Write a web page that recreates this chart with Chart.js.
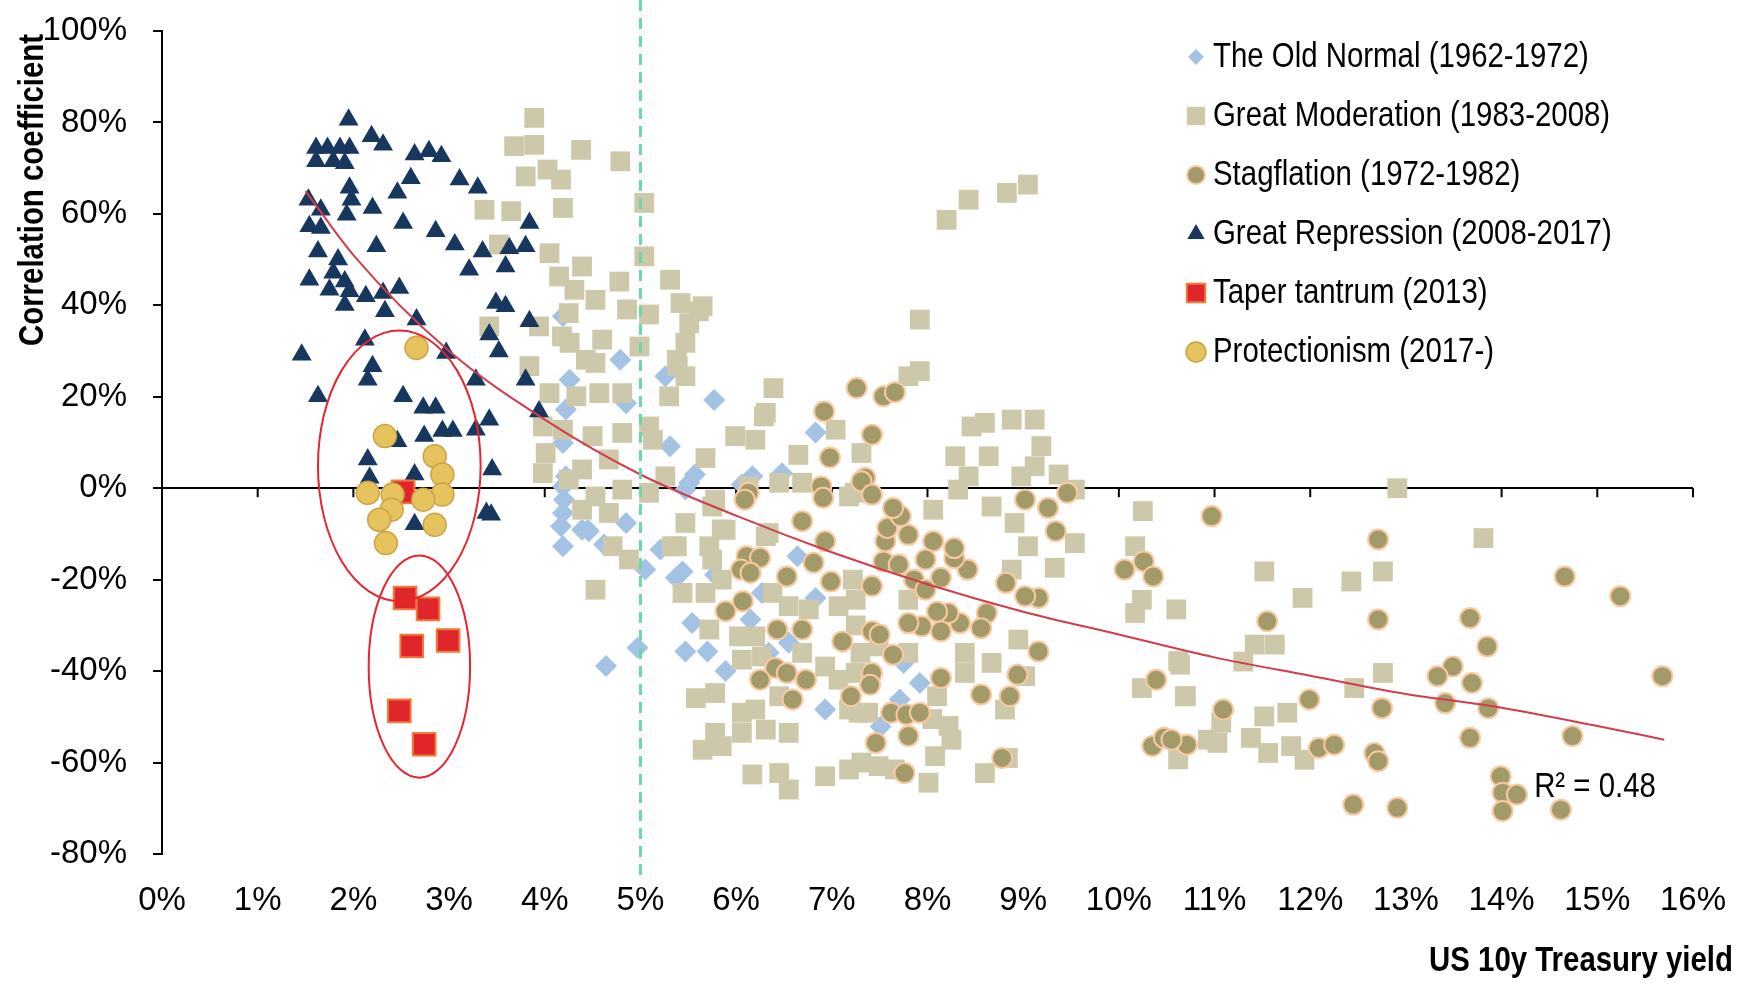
<!DOCTYPE html>
<html>
<head>
<meta charset="utf-8">
<script src="https://cdn.jsdelivr.net/npm/chart.js@4.4.1/dist/chart.umd.min.js"></script>
<style>
  html, body { margin: 0; padding: 0; background: #fff; }
  #wrap { width: 1753px; height: 989px; position: relative; }
</style>
</head>
<body>
<div id="wrap"><canvas id="chart"></canvas></div>
<script>
// values, in % (x = US 10y yield, y = correlation)
const seriesNames = [
    'The Old Normal (1962-1972)',
    'Great Moderation (1983-2008)',
    'Stagflation (1972-1982)',
    'Great Repression (2008-2017)',
    'Taper tantrum (2013)',
    'Protectionism (2017-)'
];

const oldNormal = [
    [4.19,37.6],[4.26,23.7],[4.22,17.2],[4.19,9.9],[4.22,2.6],[4.20,-2.5],[4.17,-8.3],[4.19,-12.7],
    [4.39,-9.1],[4.46,-9.4],[4.85,-7.6],[4.62,-12.3],[4.79,28.1],[4.85,18.6],[5.26,24.5],[5.31,9.2],
    [5.57,3.0],[5.47,-0.3],[5.51,1.2],[6.06,0.8],[6.17,2.6],[6.48,3.3],[5.77,19.3],[6.83,12.2],
    [5.21,-13.4],[5.05,-17.8],[5.44,-18.2],[5.37,-19.6],[5.78,-18.9],[6.27,-22.9],[6.15,-28.7],
    [5.54,-29.5],[4.97,-34.9],[5.47,-35.7],[5.70,-35.7],[4.64,-38.9],[5.89,-40.0],[6.64,-14.9],
    [6.83,-24.0],[6.55,-33.8],[6.34,-36.0],[6.93,-48.4],[7.51,-52.1],[7.75,-38.2],[7.92,-42.6],
    [7.71,-46.2],[4.19,0.4],[4.19,-5.4],[4.45,-9.1]
];

const moderation = [
    [3.89,81.0],[3.68,74.8],[3.89,75.1],[4.38,74.0],[3.80,68.2],[4.03,69.7],[4.17,67.5],[4.19,61.3],
    [3.37,60.9],[3.65,60.6],[4.79,71.5],[5.04,62.4],[8.20,58.7],[8.43,63.1],[8.83,64.6],[9.05,66.4],
    [7.92,36.9],[7.92,25.6],[7.80,24.5],
    [3.52,53.3],[4.05,51.4],[4.39,48.5],[4.31,43.4],[3.42,35.4],[3.94,35.4],[4.26,31.8],[3.84,26.7],
    [4.43,28.1],[4.05,20.8],[4.33,20.1],[5.04,50.7],[4.15,46.3],[4.78,45.2],[5.31,45.6],[4.53,41.2],
    [4.86,39.1],[5.09,38.0],[5.42,40.5],[5.65,39.8],[5.51,36.1],[4.25,38.3],[4.18,33.2],[4.60,32.5],
    [4.99,31.0],[5.47,31.8],[4.53,27.4],[5.38,28.1],[5.47,24.5],[4.57,20.8],[4.81,20.8],[5.30,20.1],
    [5.61,38.7],[5.39,26.7],
    [3.98,13.5],[4.01,7.7],[3.98,3.3],[4.39,4.1],[6.39,21.9],[6.31,16.5],[5.99,11.4],[6.20,10.6],
    [7.04,12.8],[7.31,7.7],[6.65,7.3],[5.68,6.6],[4.50,11.4],[4.81,12.1],[5.09,13.5],[4.19,12.8],
    [4.67,6.3],[4.25,1.9],[5.26,2.6],[6.13,0.4],[6.45,1.2],[6.69,1.2],[5.13,10.6],[6.29,15.7],
    [4.39,-4.7],[4.53,-1.8],[4.81,-0.3],[5.09,-1.0],[5.78,-2.5],[7.18,-1.8],[5.47,-7.6],[5.85,-9.0],
    [6.31,-10.5],[4.71,-12.7],[5.33,-12.7],[4.67,-5.4],[5.75,-4.0],[5.89,-9.1],[6.34,-9.8],[4.88,-15.6],
    [5.38,-12.7],[5.72,-12.7],[5.75,-15.6],[4.53,-22.2],[5.44,-22.9],[5.68,-22.9],[5.85,-20.0],
    [6.38,-22.9],[6.55,-25.8],[6.76,-26.5],[7.07,-25.8],[7.25,-24.4],[5.72,-30.9],[6.03,-32.4],
    [6.20,-32.4],[6.69,-36.0],[6.06,-37.5],[6.27,-36.8],[6.93,-39.0],[7.07,-41.9],[7.25,-40.4],
    [7.49,-34.6],[5.58,-45.9],[5.78,-44.8],[6.06,-49.1],[6.20,-48.4],[6.45,-45.5],[7.18,-48.4],
    [7.38,-49.1],[5.65,-57.2],[5.85,-56.4],[5.78,-53.5],[6.06,-53.5],[6.31,-52.8],[6.55,-53.5],
    [6.17,-62.6],[6.45,-62.3],[6.55,-65.9],[6.93,-63.0],[7.18,-61.5],[7.49,-60.8],[7.66,-61.5],
    [8.46,13.5],[8.60,14.3],[8.88,15.0],[9.12,15.0],[8.29,7.0],[8.64,7.0],[9.19,9.2],[9.12,4.8],
    [8.98,2.6],[9.37,3.0],[9.54,-0.3],[8.43,2.6],[8.32,-0.3],[7.24,-1.0],[8.06,-4.7],[8.67,-4.0],
    [8.91,-7.6],[9.05,-12.7],[9.54,-12.0],[10.25,-5.0],[10.17,-12.7],[9.33,-17.4],[8.88,-17.8],
    [10.24,-24.4],[10.17,-27.3],[10.60,-26.5],[10.62,-37.8],[10.24,-43.7],[10.69,-45.5],[8.95,-33.1],
    [8.39,-36.0],[8.67,-38.2],[9.02,-41.1],[8.39,-40.4],[8.10,-45.5],[8.22,-52.0],[8.25,-55.0],
    [8.08,-58.6],[8.01,-64.4],[7.80,-36.0],[7.28,-49.1],[7.31,-60.0],[8.81,-48.4],[8.60,-62.3],
    [8.84,-59.0],[10.62,-59.3],[7.22,-20.0],[7.25,-30.0],[7.30,-36.0],[7.80,-24.4],[8.05,-50.5],
    [12.91,0.0],[11.52,-18.2],[11.92,-24.0],[12.43,-20.4],[12.76,-18.2],[10.64,-38.6],[10.70,-45.5],
    [11.42,-34.2],[11.63,-34.2],[11.30,-37.9],[12.46,-43.7],[12.76,-40.4],[10.93,-55.0],[11.07,-51.3],
    [11.52,-49.9],[11.76,-49.1],[11.38,-54.6],[11.56,-57.9],[11.80,-56.4],[11.94,-59.4],[13.81,-10.9],
    [11.03,-55.7]
];

const stagflation = [
    [7.26,21.9],[7.54,20.1],[7.66,21.0],[6.92,16.8],[7.42,11.7],[6.98,6.7],[7.35,2.3],[6.89,0.4],
    [7.31,1.5],[6.13,-1.0],[6.09,-2.5],[6.91,-2.1],[7.42,-1.4],[6.69,-7.2],[6.93,-11.6],[6.11,-14.9],
    [6.25,-15.2],[6.05,-17.8],[6.15,-18.5],[6.53,-19.3],[6.81,-16.3],[6.99,-20.4],[6.07,-24.7],
    [5.89,-26.9],[6.43,-30.9],[6.69,-30.9],[7.11,-33.5],[7.42,-31.3],[7.50,-32.0],[7.64,-36.4],
    [6.41,-39.3],[6.25,-41.9],[6.53,-40.4],[6.73,-41.9],[6.59,-46.2],[7.42,-40.4],[7.40,-43.0],
    [7.20,-45.5],[7.62,-49.1],[7.78,-49.5],[7.92,-49.1],[7.80,-54.2],[7.46,-55.7],[7.76,-62.3],
    [8.14,-41.5],[8.56,-45.1],[8.86,-45.5],[8.94,-40.8],[9.16,-35.7],[8.78,-59.0],[9.16,-24.0],
    [9.02,-23.6],[8.82,-20.7],[8.62,-27.3],[8.56,-30.6],[8.34,-29.5],[8.14,-31.3],[7.94,-30.2],
    [7.80,-29.5],[8.22,-27.3],[8.10,-27.0],[8.14,-19.6],[7.86,-20.0],[7.98,-22.2],[8.42,-17.8],
    [8.28,-15.3],[8.28,-13.1],[8.06,-11.6],[7.80,-10.2],[7.56,-11.6],[7.58,-8.7],[7.72,-6.1],
    [7.64,-4.3],[7.98,-15.6],[7.54,-16.0],[7.70,-16.7],[7.42,-21.4],[9.34,-9.4],[9.26,-4.3],
    [9.02,-2.5],[9.46,-1.0],[10.06,-17.8],[10.26,-16.0],[10.36,-19.3],[10.97,-6.1],[10.39,-41.9],
    [10.35,-56.4],[10.47,-54.6],[10.71,-56.1],[10.55,-55.0],[11.09,-48.4],[11.55,-29.1],[11.99,-46.2],
    [12.09,-56.8],[12.25,-56.1],[12.71,-11.2],[12.71,-28.7],[12.75,-48.1],[12.67,-57.9],[12.71,-59.7],
    [12.45,-69.2],[12.91,-69.9],[13.67,-28.4],[13.85,-34.6],[14.66,-19.3],[15.24,-23.6],[15.68,-41.1],
    [13.49,-39.0],[13.33,-41.1],[13.69,-42.6],[13.41,-47.0],[13.86,-48.1],[13.67,-54.6],[14.74,-54.2],
    [13.99,-63.0],[14.01,-66.6],[14.16,-67.0],[14.01,-70.6],[14.62,-70.3]
];

const repression = [
    [1.95,80.6],[1.61,74.4],[1.73,74.4],[1.86,74.4],[1.96,74.4],[1.61,71.5],[1.79,71.5],[1.91,71.1],
    [2.19,77.0],[2.31,75.1],[2.64,73.0],[2.79,73.7],[2.92,72.6],[1.96,65.7],[1.98,63.1],[2.60,67.8],
    [2.46,64.6],[3.11,67.5],[3.30,65.7],[1.53,63.1],[1.66,60.9],[2.20,61.3],[1.93,59.8],[1.54,57.3],
    [1.66,56.9],[2.52,58.0],[2.86,56.2],[3.84,58.0],[3.06,53.3],[3.35,51.8],[3.63,52.5],[3.80,52.9],
    [1.63,51.8],[2.24,52.9],[1.84,50.0],[3.21,47.8],[3.59,48.5],[1.54,45.6],[1.79,47.1],[1.91,45.2],
    [1.75,43.4],[1.96,43.1],[2.13,42.0],[2.31,42.7],[2.48,43.8],[1.91,40.1],[2.33,38.7],[2.66,36.9],
    [3.49,40.5],[3.59,39.8],[3.84,36.5],[3.42,33.6],[2.12,32.5],[2.97,29.6],[1.46,29.2],[3.52,29.9],
    [2.20,26.7],[2.15,23.7],[3.28,23.7],[3.80,23.7],[1.63,20.1],[2.52,20.1],[2.73,17.6],[2.86,17.6],
    [3.94,16.8],[3.42,15.0],[2.74,11.4],[2.93,12.5],[3.04,12.5],[3.28,12.8],[2.46,10.3],[2.15,6.3],
    [3.45,4.1],[2.64,3.0],[2.17,2.3],[3.39,-5.4],[3.44,-5.8],[2.64,-7.9]
];

const taper = [[2.52,-0.8],[2.54,-24.0],[2.78,-26.4],[2.61,-34.5],[2.99,-33.3],[2.48,-48.7],[2.74,-56.0]];

const protectionism = [
    [2.66,30.7],[2.33,11.4],[2.85,7.0],[2.93,3.0],[2.93,-1.4],[2.73,-2.5],[2.15,-1.0],[2.41,-1.4],
    [2.40,-4.7],[2.27,-6.9],[2.85,-8.0],[2.34,-12.0]
];

// fitted trend line, read at a few yields
const trendX = [1.5, 2, 3, 4, 5, 6, 7, 8, 9, 10, 11, 12, 13, 14, 15, 15.7];
const trendY = [65, 51, 30, 15, 3, -6, -14, -21, -27, -32, -37, -41, -45, -48, -52, -55];
const rSquaredLabel = 'R² = 0.48';

// highlighted groups: [centre x, centre y, half width, half height]
const circled = [[2.48, 4.9, 0.85, 29.6], [2.69, -39.0, 0.53, 24.3]];
const dividerYield = 5;

const FONT = "'Liberation Sans Narrow', 'Arial Narrow', 'Liberation Sans', sans-serif";
const NARROW = 0.84; // squeeze factor to mimic the condensed Excel font

const toPts = arr => arr.map(p => ({ x: p[0], y: p[1] }));

const styles = [
    { pointStyle: 'rectRot', radius: 11, bg: '#a4c3e4', border: '#a4c3e4', bw: 0, legendR: 8 },
    { pointStyle: 'rect', radius: 14, bg: '#cec8aa', border: '#cec8aa', bw: 0, legendR: 13 },
    { pointStyle: 'circle', radius: 10, bg: '#a29a68', border: '#f8c8a0', bw: 2, legendR: 9 },
    { pointStyle: 'triangle', radius: 11.5, bg: '#17375e', border: '#17375e', bw: 0, legendR: 10 },
    { pointStyle: 'rect', radius: 16, bg: '#e0262a', border: '#f07a3c', bw: 2, legendR: 13 },
    { pointStyle: 'circle', radius: 11.5, bg: '#e7c35d', border: '#c9a244', bw: 1.5, legendR: 10 }
];
const seriesData = [oldNormal, moderation, stagflation, repression, taper, protectionism];

const datasets = seriesData.map((arr, i) => ({
    label: seriesNames[i],
    data: toPts(arr),
    pointStyle: styles[i].pointStyle,
    pointRadius: styles[i].radius,
    backgroundColor: styles[i].bg,
    borderColor: styles[i].border,
    borderWidth: styles[i].bw,
    order: 6 - i
}));

datasets.push({
    type: 'line',
    label: 'trend',
    data: trendX.map((x, i) => ({ x: x, y: trendY[i] })),
    showLine: true,
    borderColor: '#d23c4b',
    borderWidth: 2,
    pointRadius: 0,
    fill: false,
    cubicInterpolationMode: 'monotone',
    order: 0
});

function markerPath(ctx, style, x, y, r) {
    ctx.beginPath();
    if (style === 'rectRot') {
        ctx.moveTo(x, y - r); ctx.lineTo(x + r, y); ctx.lineTo(x, y + r); ctx.lineTo(x - r, y);
        ctx.closePath();
    } else if (style === 'rect') {
        const s = r * Math.SQRT1_2;
        ctx.rect(x - s, y - s, 2 * s, 2 * s);
    } else if (style === 'triangle') {
        ctx.moveTo(x, y - r);
        ctx.lineTo(x + r * 0.866, y + r * 0.5);
        ctx.lineTo(x - r * 0.866, y + r * 0.5);
        ctx.closePath();
    } else {
        ctx.arc(x, y, r, 0, Math.PI * 2);
    }
}

function narrowText(ctx, text, x, y, align) {
    ctx.save();
    ctx.translate(x, y);
    ctx.scale(NARROW, 1);
    ctx.textAlign = align;
    ctx.fillText(text, 0, 0);
    ctx.restore();
}

const overlay = {
    id: 'overlay',
    beforeDatasetsDraw(chart) {
        const { ctx, scales: { x, y } } = chart;
        const y0 = y.getPixelForValue(0);
        ctx.save();
        ctx.strokeStyle = '#000';
        ctx.lineWidth = 2;
        x.ticks.forEach(t => {
            const px = x.getPixelForValue(t.value);
            ctx.beginPath();
            ctx.moveTo(px, y0);
            ctx.lineTo(px, y0 + 9);
            ctx.stroke();
        });
        ctx.restore();
    },
    afterDatasetsDraw(chart) {
        const { ctx, scales: { x, y }, chartArea } = chart;
        ctx.save();
        // 5% divider
        const xd = x.getPixelForValue(dividerYield);
        ctx.strokeStyle = '#6ad8a4';
        ctx.lineWidth = 3;
        ctx.setLineDash([11, 7]);
        ctx.beginPath();
        ctx.moveTo(xd, 0);
        ctx.lineTo(xd, chartArea.bottom + 23);
        ctx.stroke();
        ctx.setLineDash([]);

        // red ellipses round the recent regimes
        ctx.strokeStyle = '#e8242e';
        ctx.lineWidth = 2;
        circled.forEach(c => {
            const cx = x.getPixelForValue(c[0]);
            const cy = y.getPixelForValue(c[1]);
            const rx = Math.abs(x.getPixelForValue(c[0] + c[2]) - cx);
            const ry = Math.abs(y.getPixelForValue(c[1] + c[3]) - cy);
            ctx.beginPath();
            ctx.ellipse(cx, cy, rx, ry, 0, 0, Math.PI * 2);
            ctx.stroke();
        });

        // R squared
        ctx.fillStyle = '#000';
        ctx.font = '35px ' + FONT;
        ctx.textBaseline = 'middle';
        narrowText(ctx, rSquaredLabel, x.getPixelForValue(14.34), y.getPixelForValue(-65.5), 'left');
        ctx.restore();
    },
    afterDraw(chart) {
        const { ctx } = chart;
        ctx.save();
        // legend
        ctx.font = '35px ' + FONT;
        ctx.textBaseline = 'middle';
        seriesNames.forEach((name, i) => {
            const ly = 57 + i * 59;
            const st = styles[i];
            markerPath(ctx, st.pointStyle, 1196, ly, st.legendR);
            ctx.fillStyle = st.bg;
            ctx.fill();
            if (st.bw) {
                ctx.strokeStyle = st.border;
                ctx.lineWidth = st.bw;
                ctx.stroke();
            }
            ctx.fillStyle = '#000';
            narrowText(ctx, name, 1213, ly, 'left');
        });

        // axis titles
        ctx.font = 'bold 35px ' + FONT;
        narrowText(ctx, 'US 10y Treasury yield', 1733, 961, 'right');
        ctx.translate(33, 34);
        ctx.rotate(-Math.PI / 2);
        narrowText(ctx, 'Correlation coefficient', 0, 0, 'right');
        ctx.restore();
    }
};

new Chart(document.getElementById('chart'), {
    type: 'scatter',
    data: { datasets: datasets },
    options: {
        responsive: true,
        maintainAspectRatio: false,
        animation: false,
        events: [],
        layout: { padding: { top: 31, right: 57, left: 0, bottom: 0 } },
        plugins: {
            legend: { display: false },
            tooltip: { enabled: false }
        },
        scales: {
            x: {
                type: 'linear',
                min: 0,
                max: 16,
                grid: { display: false, drawTicks: false },
                border: { display: false },
                ticks: {
                    stepSize: 1,
                    padding: 27,
                    color: '#000',
                    font: { family: FONT, size: 33 },
                    callback: v => v + '%'
                },
                afterFit: s => { s.height = 135; }
            },
            y: {
                type: 'linear',
                min: -80,
                max: 100,
                border: { display: true, color: '#000', width: 2 },
                grid: {
                    color: c => (c.tick && c.tick.value === 0 ? '#000' : 'rgba(0,0,0,0)'),
                    tickColor: '#000',
                    lineWidth: 2,
                    tickWidth: 2,
                    tickLength: 9
                },
                ticks: {
                    stepSize: 20,
                    padding: 26,
                    color: '#000',
                    font: { family: FONT, size: 33 },
                    callback: v => v + '%'
                },
                afterFit: s => {
                    s.width = 162;
                    s.paddingTop = 0;
                    s.paddingBottom = 0;
                }
            }
        }
    },
    plugins: [overlay]
});
</script>
</body>
</html>
